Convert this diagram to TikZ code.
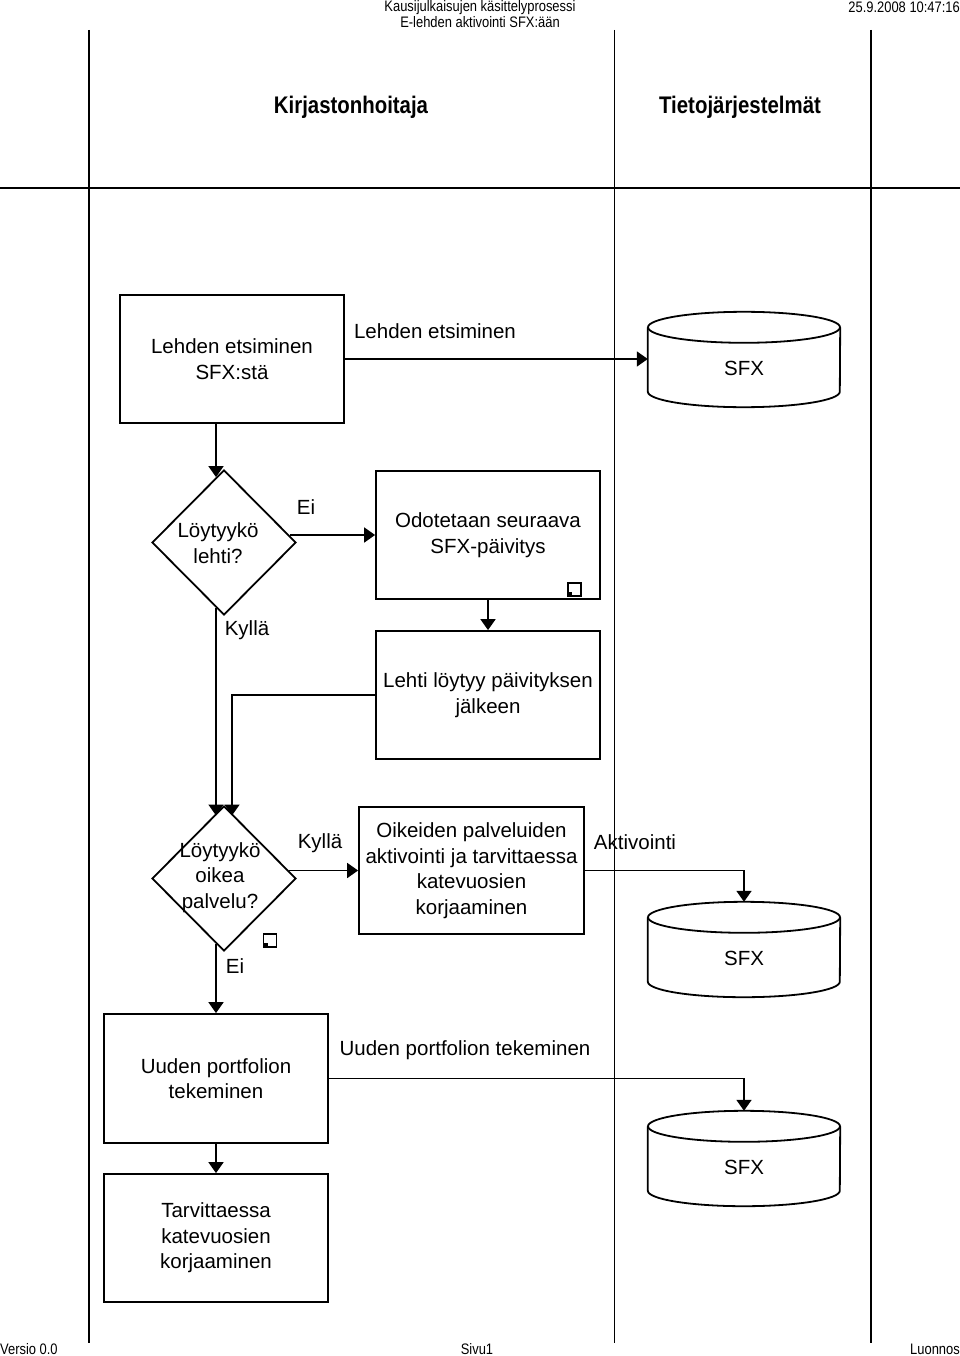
\documentclass[tikz,border=0pt]{standalone}
\usepackage{fontspec}
\setmainfont{Liberation Sans}
\newfontfamily\narrowfont[FakeStretch=0.85]{Liberation Sans}
\usetikzlibrary{arrows.meta,shapes.geometric}
\tikzset{
  lane/.style={line width=1.6pt},
  procbox/.style={draw, line width=1.8pt, rectangle, inner sep=0pt, align=center,
    font=\fontsize{20.5}{25.5}\selectfont},
  dec/.style={draw, line width=1.8pt, diamond, inner sep=0pt, minimum width=144pt, minimum height=145pt},
  dectext/.style={align=center, inner sep=0pt, font=\fontsize{20.5}{25.5}\selectfont},
  cylarea/.style={inner sep=0pt, minimum width=192pt, minimum height=95pt},
  lbl/.style={inner sep=0pt, font=\fontsize{20.5}{25.5}\selectfont},
  hdr/.style={inner sep=0pt, align=center, font=\narrowfont\fontsize{15.2}{15.5}\selectfont},
  ttl/.style={inner sep=0pt, font=\narrowfont\bfseries\fontsize{24}{26}\selectfont},
  arr/.style={line width=1.8pt, -{Triangle[length=11pt,width=15pt]}},
  icon/.style={draw, line width=1.3pt, inner sep=0pt, minimum size=13pt},
}
\begin{document}
\begin{tikzpicture}[x=1pt,y=-1pt]
\useasboundingbox (0,0) rectangle (960,1356);
\fill[white] (0,0) rectangle (960,1356);

% header / footer
\node[hdr] (h1) at (480,14) {Kausijulkaisujen käsittelyprosessi\\E-lehden aktivointi SFX:ään};
\node[hdr, anchor=east] (h2) at (960,7) {25.9.2008 10:47:16};
\node[hdr, anchor=west] (f1) at (0,1349) {Versio 0.0};
\node[hdr] (f2) at (477,1349) {Sivu1};
\node[hdr, anchor=east] (f3) at (960,1349) {Luonnos};

% lanes
\draw[lane] (89,30) -- (89,1343);
\draw[lane] (614.5,30) -- (614.5,1343);
\draw[lane] (871,30) -- (871,1343);
\draw[line width=2.2pt] (0,188) -- (960,188);
\node[ttl] (t1) at (351,107) {Kirjastonhoitaja};
\node[ttl] (t2) at (740,107) {Tietojärjestelmät};

% process boxes
\node[procbox, minimum width=224pt, minimum height=128pt] (b1) at (232,359) {Lehden etsiminen\\SFX:stä};
\node[procbox, minimum width=224pt, minimum height=128pt] (b4) at (488,535) {Odotetaan seuraava\\SFX-päivitys};
\node[procbox, minimum width=224pt, minimum height=128pt] (b5) at (488,695) {Lehti löytyy päivityksen\\jälkeen};
\node[procbox, minimum width=225pt, minimum height=127pt] (b6) at (471.5,870.5) {Oikeiden palveluiden\\aktivointi ja tarvittaessa\\katevuosien\\korjaaminen};
\node[procbox, minimum width=224pt, minimum height=129pt] (b7) at (216,1078.5) {Uuden portfolion\\tekeminen};
\node[procbox, minimum width=224pt, minimum height=128pt] (b8) at (216,1238) {Tarvittaessa\\katevuosien\\korjaaminen};

% decisions
\node[dec] (d1) at (224,542.5) {};
\node[dectext] (d1t) at (218,543) {Löytyykö\\lehti?};
\node[dec] (d2) at (224,878.5) {};
\node[dectext] (d2t) at (220,877.5) {Löytyykö\\oikea\\palvelu?};

% sub-process icons
\node[icon] (i1) at (574.5,589.5) {};
\fill ([xshift=1pt,yshift=1pt]i1.south west) rectangle +(4pt,4pt);
\node[icon] (i2) at (270,940.5) {};
\fill ([xshift=1pt,yshift=1pt]i2.south west) rectangle +(4pt,4pt);

% data stores (cylinders)
\foreach \n/\cy in {s1/359.5, s2/949.5, s3/1158.5}{
  \node[cylarea] (\n) at (744,\cy) {};
  \draw[line width=1.8pt] ([yshift=-15.5pt]\n.north west) -- ([yshift=15.5pt]\n.south west)
     arc (180:360:96pt and 15.5pt) -- ([yshift=-15.5pt]\n.north east);
  \draw[line width=1.8pt] ([yshift=-15.5pt]\n.north) ellipse (96pt and 15.5pt);
}
\node[lbl] (s1t) at (744,368) {SFX};
\node[lbl] (s2t) at (744,958) {SFX};
\node[lbl] (s3t) at (744,1167) {SFX};

% connectors
\draw[arr] (b1.east) -- (b1.east -| s1.west);
\node[lbl] (l1) at (435,331) {Lehden etsiminen};

\draw[arr] ([xshift=-16pt]b1.south) -- ([xshift=-8pt,yshift=-8pt]d1.north);

\draw[arr] ([xshift=-7pt]d1.east |- b4.west) -- (b4.west);
\node[lbl] (l2) at (306,507) {Ei};

\draw[arr] (b4.south) -- (b5.north);

\coordinate (k1) at (216,815.5);
\draw[arr] ([xshift=-8pt,yshift=8pt]d1.south) -- (k1);
\node[lbl] (l3) at (247,630) {Kyllä};

\coordinate (c1) at (232,695);
\coordinate (k2) at (232,815.5);
\draw[arr] (b5.west) -- (c1) -- (k2);

\draw[arr] ([xshift=-8pt]d2.east |- b6.west) -- (b6.west);
\node[lbl] (l4) at (320,843) {Kyllä};

\draw[arr] (b6.east) -| (s2.north);
\node[lbl] (l5) at (635,842) {Aktivointi};

\draw[arr] ([xshift=-8pt,yshift=8pt]d2.south) -- (b7.north);
\node[lbl] (l6) at (235,966) {Ei};

\draw[arr] (b7.east) -| (s3.north);
\node[lbl] (l7) at (465,1050) {Uuden portfolion tekeminen};

\draw[arr] (b7.south) -- (b8.north);
\end{tikzpicture}
\end{document}
